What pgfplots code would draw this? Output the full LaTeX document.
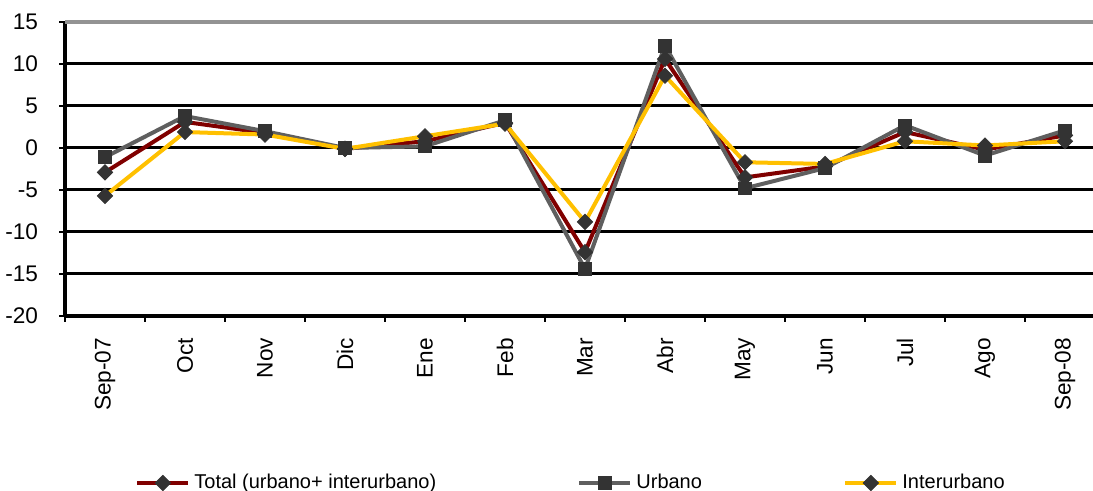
\documentclass[border=0pt]{standalone}
\usepackage{pgfplots}
\pgfplotsset{compat=1.18}
\usepackage{fontspec}
\setmainfont{Liberation Sans}

\definecolor{totalred}{HTML}{800000}
\definecolor{urbgray}{HTML}{5F5F5F}
\definecolor{interyel}{HTML}{FFC000}
\definecolor{markgray}{HTML}{333333}

\begin{document}
\begin{tikzpicture}
  \begin{axis}[
    scale only axis,
    width=514pt,
    height=147pt,
    xmin=-0.5, xmax=12.35,
    ymin=-20, ymax=15,
    clip=false,
    axis x line*=bottom,
    axis y line*=left,
    axis line style={black, line width=2pt, -},
    xtick={0,1,...,12},
    xticklabels={Sep-07,Oct,Nov,Dic,Ene,Feb,Mar,Abr,May,Jun,Jul,Ago,Sep-08},
    major x tick style={draw=none},
    minor xtick={-0.5,0.5,...,11.5},
    minor x tick style={black, line width=1.3pt},
    minor tick length=3pt,
    xticklabel style={yshift=-4.5pt, rotate=90, anchor=east},
    ytick={-20,-15,...,10},
    yticklabels={-20,-15,-10,-5,0,5,10},
    extra y ticks={15},
    extra y tick labels={15},
    extra y tick style={major grid style={color=gray!85, line width=1.6pt}},
    ymajorgrids=true,
    major grid style={black, line width=1.5pt},
    major tick length=3pt,
    tick align=outside,
    y tick style={black, line width=1.3pt},
    yticklabel style={anchor=east, xshift=-7pt},
    every tick label/.append style={font=\fontsize{11.3}{13}\selectfont},
    legend style={
      at={(0.0681,-0.568)}, anchor=west,
      draw=none, fill=none, inner sep=0pt,
      legend columns=3,
      font=\fontsize{10}{12}\selectfont,
      /tikz/every even column/.append style={column sep=0pt},
    },
    legend cell align=left,
    legend image code/.code={
      \draw[mark repeat=2, mark phase=2]
        plot coordinates {(0pt,0pt) (12.75pt,0pt) (25.5pt,0pt)};
    },
  ]
    \addplot[color=totalred, line width=2pt, mark=square*,
      mark size=2.7pt, mark options={rotate=45, fill=markgray, draw=markgray, line width=0.4pt}]
      coordinates {
        (0,-2.9) (1,3.1) (2,1.8) (3,-0.1) (4,0.8) (5,3.0) (6,-12.4)
        (7,10.6) (8,-3.5) (9,-2.2) (10,1.9) (11,-0.2) (12,1.5)
      };
    \addlegendentry{\makebox[189.5pt][l]{Total (urbano+ interurbano)}}
    \addplot[color=urbgray, line width=2pt, mark=square*,
      mark size=3.2pt, mark options={fill=markgray, draw=markgray, line width=0.4pt}]
      coordinates {
        (0,-1.1) (1,3.8) (2,2.0) (3,0.0) (4,0.2) (5,3.3) (6,-14.4)
        (7,12.2) (8,-4.8) (9,-2.4) (10,2.7) (11,-0.9) (12,2.1)
      };
    \addlegendentry{\makebox[101.5pt][l]{Urbano}}
    \addplot[color=interyel, line width=2pt, mark=square*,
      mark size=2.7pt, mark options={rotate=45, fill=markgray, draw=markgray, line width=0.4pt}]
      coordinates {
        (0,-5.7) (1,1.9) (2,1.6) (3,-0.1) (4,1.4) (5,2.9) (6,-8.8)
        (7,8.6) (8,-1.7) (9,-1.9) (10,0.8) (11,0.3) (12,0.8)
      };
    \addlegendentry{Interurbano}
  \end{axis}
  \pgfresetboundingbox
  \path[use as bounding box] (-32.5pt,-87.5pt) rectangle (514pt,158pt);
\end{tikzpicture}
\end{document}
